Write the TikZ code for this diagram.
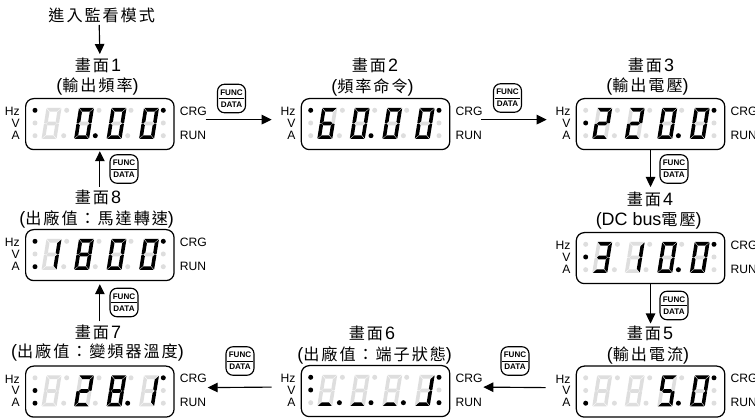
\documentclass[tikz,border=0pt]{standalone}
\usepackage{fontspec}
\usetikzlibrary{arrows.meta,calc}
\setmainfont{Liberation Sans}
\newfontfamily\cjk[Scale=0.9,LetterSpace=12]{Noto Sans CJK TC}
\definecolor{segoff}{gray}{0.87}
\tikzset{
  x=0.02cm,y=-0.02cm,
  seg1/.style={fill=black},
  seg0/.style={fill=segoff},
  dot1/.style={fill=black},
  dot0/.style={fill=segoff},
  panelbox/.style={draw,line width=0.7pt,rounded corners=0.16cm,minimum width=2.97cm,minimum height=1.02cm,inner sep=0pt,anchor=north west},
  ledlabel/.style={inner sep=0pt,font=\fontsize{6.9pt}{8pt}\selectfont},
  titletext/.style={inner sep=0pt,font=\fontsize{10.2pt}{11pt}\selectfont},
  keybox/.style={draw,line width=0.65pt,rounded corners=0.14cm,minimum width=0.56cm,minimum height=0.57cm,inner sep=0pt},
  keytext/.style={inner sep=0pt,font=\fontsize{4.6pt}{5pt}\selectfont\bfseries},
  conn/.style={line width=0.65pt,-{Triangle[length=0.2cm,width=0.19cm]}},
}
\newcommand\digitb[8]{%
 \begin{scope}[shift={(#1+5,10)},xslant=0.16]
  \path[seg#2] (0.5,0) -- (14.5,0) -- (11.1,3.6) -- (3.9,3.6) -- cycle;
  \path[seg#3] (15,0.5) -- (15,15) -- (13.2,15.5) -- (11.4,13.7) -- (11.4,4.1) -- cycle;
  \path[seg#4] (15,16) -- (15,30.5) -- (11.4,26.9) -- (11.4,17.3) -- (13.2,15.5) -- cycle;
  \path[seg#5] (0.5,31) -- (14.5,31) -- (11.1,27.4) -- (3.9,27.4) -- cycle;
  \path[seg#6] (0,16) -- (0,30.5) -- (3.6,26.9) -- (3.6,17.3) -- (1.8,15.5) -- cycle;
  \path[seg#7] (0,0.5) -- (0,15) -- (1.8,15.5) -- (3.6,13.7) -- (3.6,4.1) -- cycle;
  \path[seg#8] (2.3,15.5) -- (4.1,13.7) -- (10.9,13.7) -- (12.7,15.5) -- (10.9,17.3) -- (4.1,17.3) -- cycle;
 \end{scope}}
\newcommand\digit[2]{\digitb{#1}#2}
\newcommand\ledrow[9]{%
 \path[dot#1] (10,12.3) circle (0.05cm);
 \path[dot#2] (10,25) circle (0.05cm);
 \path[dot#3] (10,37.7) circle (0.05cm);
 \path[dot#4] (38.7,37.7) circle (0.05cm);
 \path[dot#5] (70.3,37.7) circle (0.05cm);
 \path[dot#6] (102.7,37.7) circle (0.05cm);
 \path[dot#7] (138.3,12.3) circle (0.05cm);
 \path[dot#8] (138.3,25) circle (0.05cm);
 \path[dot#9] (138.3,37.7) circle (0.05cm);
 \path[dot0] (41.7,12.3) circle (0.05cm);
 \path[dot0] (74,12.3) circle (0.05cm);
 \path[dot0] (106,12.3) circle (0.05cm);}
\newcommand\panel[7]{%
 \node[panelbox] (#1) at (#2) {};
 \begin{scope}[shift={(#2)}]
  \expandafter\ledrow#3
  \digit{16.5}{#4}\digit{49}{#5}\digit{81.5}{#6}\digit{114}{#7}
  \node[ledlabel,anchor=east] (#1hz) at (-5,13.7) {Hz};
  \node[ledlabel,anchor=east] (#1v) at (-5,25) {V};
  \node[ledlabel,anchor=east] (#1a) at (-5,37) {A};
  \node[ledlabel,anchor=west] (#1crg) at (154.5,13) {CRG};
  \node[ledlabel,anchor=west] (#1run) at (154.5,37) {RUN};
 \end{scope}}
\newcommand\fkey[2]{%
 \node[keybox] (#1) at (#2) {};
 \draw[line width=0.55pt] ($(#1.west)+(2,0)$) -- ($(#1.east)+(-2,0)$);
 \node[keytext] (#1f) at ($(#1.center)+(0,-6)$) {FUNC};
 \node[keytext] (#1d) at ($(#1.center)+(0,6)$) {DATA};}
\newcommand\screen[1]{{\cjk 畫面}\hspace{0.04cm}#1}
\begin{document}
\begin{tikzpicture}
\useasboundingbox (0,0) rectangle (755,418);
\fill[white] (0,0) rectangle (755,418);
% panels
\panel{pa}{25,98}{100010100}{0000000}{1111110}{1111110}{1111110}
\panel{pb}{300.7,98}{100010100}{1011111}{1111110}{1111110}{1111110}
\panel{pc}{575.7,98}{010001100}{1101101}{1101101}{1111110}{1111110}
\panel{pd}{575.7,232}{010001100}{1111001}{0110000}{1111110}{1111110}
\panel{pe}{575.7,365.5}{001001100}{0000000}{0000000}{1011011}{1111110}
\panel{pf}{300.7,365}{110111101}{0001000}{0001000}{0001000}{0111000}
\panel{pg}{25,365.5}{011001100}{0000000}{1101101}{1111111}{0110000}
\panel{ph}{25,229}{101000100}{0110000}{1111111}{1111110}{1111110}
% titles
\node[titletext] (start) at (101.7,15) {\cjk 進入監看模式};
\node[titletext] (ta) at (98,65) {\screen{1}};
\node[titletext] (sa) at (97.5,87) {({\cjk 輸出頻率})};
\node[titletext] (tb) at (375,65) {\screen{2}};
\node[titletext] (sb) at (372.5,87) {({\cjk 頻率命令})};
\node[titletext] (tc) at (651,65) {\screen{3}};
\node[titletext] (sc) at (647.5,87) {({\cjk 輸出電壓})};
\node[titletext] (td) at (650,199) {\screen{4}};
\node[titletext] (sd) at (648.7,221) {(DC bus{\cjk 電壓})};
\node[titletext] (te) at (650,333) {\screen{5}};
\node[titletext] (se) at (648,356) {({\cjk 輸出電流})};
\node[titletext] (tf) at (372,333) {\screen{6}};
\node[titletext] (sf) at (374.7,355) {({\cjk 出廠值：端子狀態})};
\node[titletext] (tg) at (98,332) {\screen{7}};
\node[titletext] (sg) at (97.5,352) {({\cjk 出廠值：變頻器溫度})};
\node[titletext] (th) at (98,197) {\screen{8}};
\node[titletext] (sh) at (96.7,219) {({\cjk 出廠值：馬達轉速})};
% keys
\fkey{ka}{231.5,98.5}
\fkey{kb}{507.5,98}
\fkey{kc}{674,169}
\fkey{kd}{674,305.5}
\fkey{ke}{515,361}
\fkey{kf}{240,361}
\fkey{kg}{124,302.5}
\fkey{kh}{124,169}
% connectors
\draw[conn] ($(start.center)+(-2.5,10)$) -- ($(pa.north)+(0,-44)$);
\draw[conn] ($(pa.east)+(31,-4.5)$) -- ($(pb.west)+(-29,-4.5)$);
\draw[conn] ($(pb.east)+(31,-4.5)$) -- ($(pc.west)+(-29,-4.5)$);
\draw[conn] (pc.south) -- ($(pd.north)+(0,-45)$);
\draw[conn] (pd.south) -- ($(pe.north)+(0,-42)$);
\draw[conn] ($(pe.west)+(-30,-4)$) -- ($(pf.east)+(33,-4)$);
\draw[conn] ($(pf.west)+(-29,-4)$) -- ($(pg.east)+(33,-4)$);
\draw[conn] ($(pg.north)+(0,-44)$) -- ($(ph.south)+(0,3)$);
\draw[conn] ($(ph.north)+(0,-42)$) -- ($(pa.south)+(0,1)$);
\end{tikzpicture}
\end{document}
